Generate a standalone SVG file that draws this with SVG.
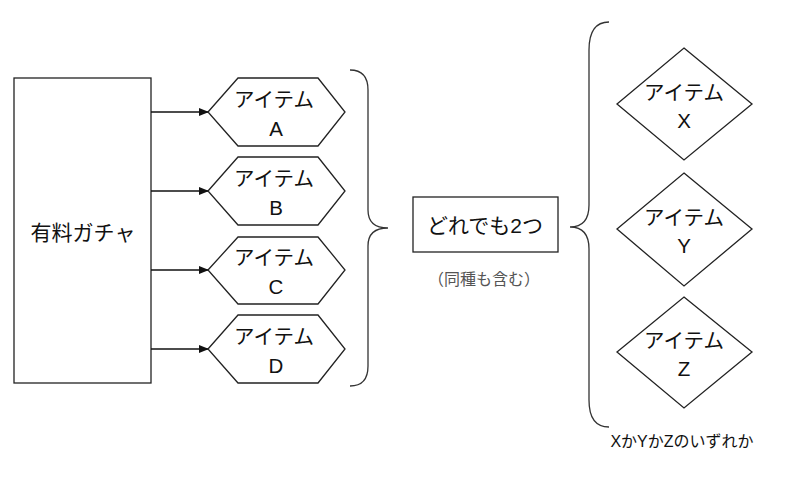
<svg xmlns="http://www.w3.org/2000/svg" width="808" height="500" viewBox="0 0 808 500">
<style>
.s{fill:#fff;stroke:#222;stroke-width:1.3}
.t{font-family:"Liberation Sans","Noto Sans CJK JP",sans-serif;font-size:20.5px;fill:#111;text-anchor:middle}
.b{fill:none;stroke:#333;stroke-width:1.3}
</style>
<defs><marker id="ar" markerWidth="10" markerHeight="8" refX="9" refY="4" orient="auto" markerUnits="userSpaceOnUse"><path d="M0,0 L10,4 L0,8 Z" fill="#111"/></marker></defs>
<rect width="808" height="500" fill="#fff"/>
<g id="gacha"><rect class="s" x="14" y="78" width="137" height="305"/><text class="t" x="83" y="240" style="font-size:21px">有料ガチャ</text></g>
<g id="connectors" stroke="#111" stroke-width="1.3" marker-end="url(#ar)">
<line x1="151" y1="112" x2="208" y2="112"/><line x1="151" y1="191" x2="208" y2="191"/><line x1="151" y1="270" x2="208" y2="270"/><line x1="151" y1="349" x2="208" y2="349"/>
</g>
<g id="itemA"><polygon class="s" points="208,112 238,78 318,78 345,112 318,146 238,146"/><text class="t" x="274" y="107">アイテム</text><text class="t" x="276" y="136">A</text></g>
<g id="itemB"><polygon class="s" points="208,191 238,157 318,157 345,191 318,225 238,225"/><text class="t" x="274" y="186">アイテム</text><text class="t" x="276" y="215">B</text></g>
<g id="itemC"><polygon class="s" points="208,270 238,237 318,237 345,270 318,304 238,304"/><text class="t" x="274" y="265">アイテム</text><text class="t" x="276" y="294">C</text></g>
<g id="itemD"><polygon class="s" points="208,349 238,315 318,315 345,349 318,383 238,383"/><text class="t" x="274" y="344">アイテム</text><text class="t" x="276" y="373">D</text></g>
<path class="b" d="M350,70 Q368,70 368,90 L368,210 Q368,228 388,228 Q368,228 368,246 L368,366 Q368,386 350,386"/>
<g id="any2"><rect class="s" x="413" y="197" width="145" height="55"/><text class="t" x="485" y="233" style="font-size:21px">どれでも2つ</text>
<text class="t" x="484" y="285" style="font-size:16px;fill:#555">（同種も含む）</text></g>
<path class="b" d="M609,22 Q589,22 589,50 L589,205 Q589,227 570,227 Q589,227 589,249 L589,400 Q589,427 609,427"/>
<g id="itemX"><polygon class="s" points="684,48 752,104 684,160 617,104"/><text class="t" x="684" y="100">アイテム</text><text class="t" x="684" y="128">X</text></g>
<g id="itemY"><polygon class="s" points="684,173 752,229 684,286 617,229"/><text class="t" x="684" y="225">アイテム</text><text class="t" x="684" y="253">Y</text></g>
<g id="itemZ"><polygon class="s" points="684,297 752,352 684,408 617,352"/><text class="t" x="684" y="348">アイテム</text><text class="t" x="684" y="376">Z</text></g>
<text class="t" x="682" y="447" style="font-size:16px">XかYかZのいずれか</text>
</svg>
